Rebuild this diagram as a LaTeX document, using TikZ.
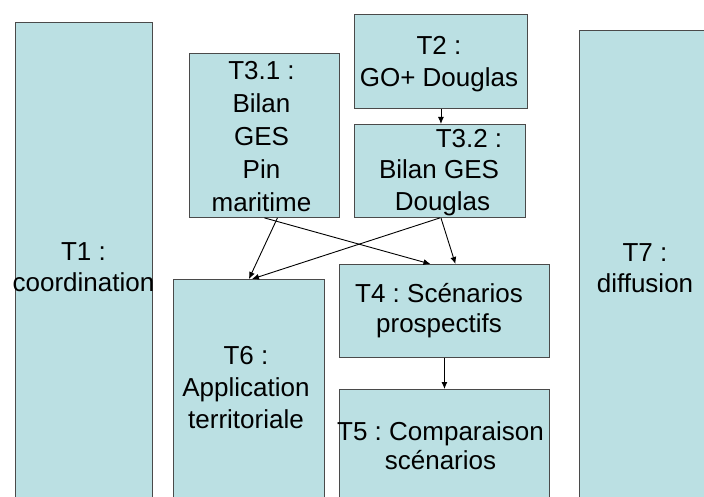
\documentclass[tikz,border=0pt]{standalone}
\usepackage{fontspec}
\setmainfont{Liberation Sans}
\usetikzlibrary{arrows.meta}
\definecolor{boxfill}{HTML}{BBE0E3}
\definecolor{boxline}{HTML}{4A4A4A}
\tikzset{
  box/.style={draw=boxline, fill=boxfill, line width=0.9pt, inner sep=0pt, anchor=north west},
  lbl/.style={inner sep=0pt, align=center, anchor=center, text=black},
  conn/.style={draw=black, line width=0.9pt, -{Latex[length=7pt,width=6pt]}}
}
\newcommand{\fs}[1]{\fontsize{26}{#1}\selectfont\frenchspacing}
\begin{document}
\begin{tikzpicture}[x=1pt, y=-1pt]
\useasboundingbox (0,0) rectangle (704,497);
\clip (0,0) rectangle (704,497);
% boxes
\node[box, minimum width=137pt, minimum height=480pt] (T1) at (15,22) {};
\node[box, minimum width=150pt, minimum height=164pt] (T31) at (189,53) {};
\node[box, minimum width=173pt, minimum height=94pt] (T2) at (354,14) {};
\node[box, minimum width=171pt, minimum height=93pt] (T32) at (354,124) {};
\node[box, minimum width=130pt, minimum height=475pt] (T7) at (579,30) {};
\node[box, minimum width=151pt, minimum height=225pt] (T6) at (173,279) {};
\node[box, minimum width=210pt, minimum height=93pt] (T4) at (339,264) {};
\node[box, minimum width=210pt, minimum height=115pt] (T5) at (339,389) {};
% labels
\node[lbl, font=\fs{31}] (L1) at (83.5,266.9) {T1 :\\coordination};
\node[lbl, font=\fs{33}] (L31) at (261.5,136.7) {T3.1 :\\Bilan\\GES\\Pin\\maritime};
\node[lbl, font=\fs{32}] (L2) at (439,64.5) {T2 :\\GO+ Douglas};
\node[lbl, font=\fs{31.7}] (L32) at (439,172.5) {\hspace*{60pt}T3.2 :\\Bilan GES\\\hspace*{7pt}Douglas};
\node[lbl, font=\fs{30}] (L4) at (439,311.1) {T4 : Scénarios\\prospectifs};
\node[lbl, font=\fs{29.5}] (L5) at (440.5,445.8) {T5 : Comparaison\\scénarios};
\node[lbl, font=\fs{32}] (L6) at (246,387.7) {T6 :\\Application\\territoriale};
\node[lbl, font=\fs{31.6}] (L7) at (645,268.2) {T7 :\\diffusion};
% connectors
\draw[conn] (T2.south) -- (T2.south |- T32.north);
\draw[conn] ([xshift=13pt]T31.south) -- (T6.north);
\draw[conn] (T31.south) -- ([xshift=-14pt]T4.north);
\draw[conn] (T32.south) -- ([xshift=3pt]T6.north);
\draw[conn] ([xshift=1pt]T32.south) -- ([xshift=11pt]T4.north);
\draw[conn] (T4.south) -- (T5.north);
\end{tikzpicture}
\end{document}
